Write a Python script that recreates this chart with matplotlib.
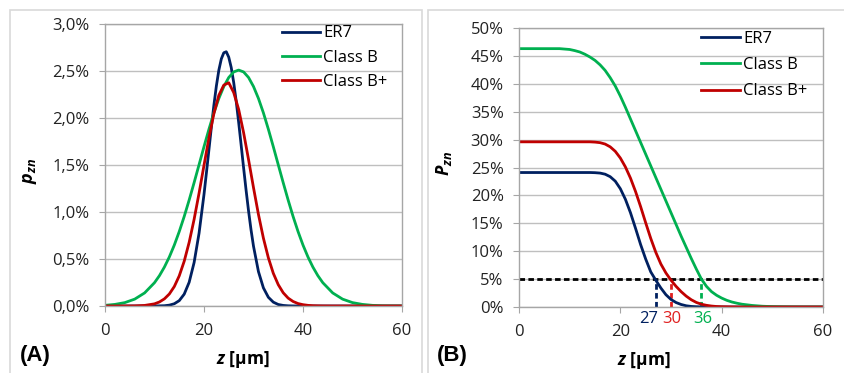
import matplotlib
matplotlib.use("Agg")
import matplotlib.pyplot as plt
from matplotlib.patches import Rectangle
from matplotlib.ticker import FuncFormatter, MultipleLocator

plt.rcParams['font.family'] = ['Open Sans', 'DejaVu Sans']
plt.rcParams['mathtext.fontset'] = 'custom'
plt.rcParams['mathtext.rm'] = 'Open Sans'
plt.rcParams['mathtext.it'] = 'Open Sans:italic:bold'
plt.rcParams['mathtext.bfit'] = 'Open Sans:italic:bold'

# z grid [um] for most series
z = [0, 2, 4, 6, 8] + list(range(10, 45)) + [46, 48, 50, 52, 54, 56, 58, 60]
# finer z grid [um] for the narrow ER7 peak in (A)
z_er7 = ([0, 2, 4, 6, 8, 10, 12, 13, 14, 15, 16, 17, 18, 19]
         + [20 + 0.5 * i for i in range(21)]
         + [31, 32, 33, 34, 35, 36, 37, 38, 40, 44, 48, 52, 56, 60])

# panel (A): p_zn [%]
p_er7 = [0, 0, 0, 0, 0, 0.0002, 0.003, 0.009, 0.024, 0.057, 0.126, 0.252, 0.462, 0.774,
         1.187, 1.422, 1.665, 1.908, 2.137, 2.341, 2.509, 2.629, 2.694, 2.705, 2.647,
         2.537, 2.378, 2.180, 1.955, 1.714, 1.470, 1.233, 1.011, 0.811, 0.636,
         0.366, 0.193, 0.093, 0.041, 0.016, 0.006, 0.002, 0.0006, 0, 0, 0, 0, 0, 0]
p_classb = [0.007, 0.017, 0.036, 0.073, 0.139,
            0.248, 0.323, 0.414, 0.522, 0.648, 0.792, 0.952, 1.127, 1.312, 1.503,
            1.695, 1.881, 2.055, 2.208, 2.335, 2.431, 2.49, 2.51, 2.49, 2.431,
            2.335, 2.208, 2.055, 1.881, 1.695, 1.503, 1.312, 1.127, 0.952, 0.792,
            0.648, 0.522, 0.414, 0.323, 0.248,
            0.139, 0.073, 0.036, 0.017, 0.007, 0.001, 0, 0]
p_classbp = [0, 0, 0.0002, 0.001, 0.006,
             0.023, 0.043, 0.076, 0.128, 0.207, 0.321, 0.476, 0.677, 0.921, 1.20,
             1.497, 1.789, 2.047, 2.242, 2.35, 2.375, 2.271, 2.092, 1.844, 1.557,
             1.259, 0.974, 0.722, 0.513, 0.348, 0.227, 0.141, 0.084, 0.048, 0.026,
             0.014, 0.007, 0.003, 0.0015, 0.0006,
             0, 0, 0, 0, 0, 0, 0, 0]

# panel (B): P_zn [%]
P_er7 = [24.1, 24.1, 24.1, 24.1, 24.1,
         24.1, 24.1, 24.1, 24.1, 24.1, 24.07, 24.0, 23.8, 23.35, 22.55,
         21.2, 19.3, 16.9, 14.1, 11.2, 8.6, 6.3, 4.8, 3.4, 2.2,
         1.35, 0.8, 0.45, 0.22, 0.1, 0.05, 0.02, 0.01, 0, 0,
         0, 0, 0, 0, 0,
         0, 0, 0, 0, 0, 0, 0, 0]
P_classb = [46.3, 46.3, 46.3, 46.3, 46.3,
            46.15, 45.95, 45.7, 45.3, 44.8, 44.2, 43.4, 42.4, 41.1, 39.6,
            37.8, 35.8, 33.7, 31.6, 29.5, 27.4, 25.3, 23.2, 21.1, 19.0,
            16.9, 14.8, 12.7, 10.7, 8.7, 6.8, 5.0, 3.7, 2.75, 2.1,
            1.6, 1.2, 0.9, 0.68, 0.5,
            0.28, 0.14, 0.07, 0.03, 0.01, 0, 0, 0]
P_classbp = [29.6, 29.6, 29.6, 29.6, 29.6,
             29.6, 29.6, 29.6, 29.6, 29.6, 29.55, 29.45, 29.2, 28.7, 27.9,
             26.7, 25.1, 23.1, 20.7, 18.0, 15.1, 12.3, 9.8, 7.7, 6.1,
             4.8, 3.7, 2.75, 1.95, 1.3, 0.82, 0.5, 0.3, 0.17, 0.09,
             0.05, 0.03, 0.015, 0.007, 0,
             0, 0, 0, 0, 0, 0, 0, 0]

labels = ['ER7', 'Class B', 'Class B+']
colors = ['#002060', '#00B050', '#C00000']
thr_level = 5
thr_z = [27, 30, 36]
thr_text = ['27', '30', '36']
thr_text_x = [25.6, 30.2, 36.2]
thr_colors = ['#002060', '#E02020', '#00B050']

W, H = 844, 373
fig = plt.figure(figsize=(W / 100, H / 100), dpi=100)

# panel frames
for x0, x1 in [(10, 422), (428, 850)]:
    fig.patches.append(Rectangle((x0 / W, -0.05), (x1 - x0) / W, (H - 9.5) / H + 0.05,
                                 transform=fig.transFigure, fill=False,
                                 edgecolor='#D9D9D9', lw=1.2))

axA = fig.add_axes([105 / W, (H - 306) / H, 297 / W, 282 / H])
axB = fig.add_axes([519 / W, (H - 307) / H, 304 / W, 279 / H])

for zz, ys, lab, c in zip([z_er7, z, z], [p_er7, p_classb, p_classbp], labels, colors):
    axA.plot(zz, ys, color=c, lw=2, label=lab)
for ys, lab, c in zip([P_er7, P_classb, P_classbp], labels, colors):
    axB.plot(z, ys, color=c, lw=2, label=lab)

axB.plot([0, 60], [thr_level, thr_level], color='black', lw=2, ls=(0, (2, 1.2)), zorder=1)
for zt, c, t, tx in zip(thr_z, thr_colors, thr_text, thr_text_x):
    axB.plot([zt, zt], [0, thr_level], color=c, lw=2, ls=(0, (2, 1.2)), zorder=1)
    axB.text(tx, -0.8, t, color=c, ha='center', va='top', fontsize=12)

axA.set_ylim(0, 3.0)
axA.yaxis.set_major_locator(MultipleLocator(0.5))
axA.yaxis.set_major_formatter(FuncFormatter(lambda v, p: f"{v:.1f}%".replace('.', ',')))
axB.set_ylim(0, 50)
axB.yaxis.set_major_locator(MultipleLocator(5))
axB.yaxis.set_major_formatter(FuncFormatter(lambda v, p: f"{v:.0f}%"))

for ax in (axA, axB):
    ax.set_xlim(0, 60)
    ax.set_xticks([0, 20, 40, 60])
    ax.grid(axis='y', color='#BFBFBF', lw=1)
    ax.set_axisbelow(True)
    for s in ax.spines.values():
        s.set_color('#A6A6A6')
        s.set_linewidth(1)
    ax.tick_params(axis='both', colors='#A6A6A6', labelcolor='#222222',
                   labelsize=12, length=4)
    ax.tick_params(axis='x', pad=8)
    ax.tick_params(axis='y', pad=7)
    ax.set_xlabel(r'$\mathbfit{z}$ [μm]', fontsize=12.5, fontweight='bold')

axA.xaxis.set_label_coords(0.465, -0.152)
axB.xaxis.set_label_coords(0.41, -0.155)
axA.set_ylabel(r'$\mathbfit{p}_{\mathbfit{zn}}$', fontsize=13)
axA.yaxis.set_label_coords(-0.222, 0.48)
axB.set_ylabel(r'$\mathbfit{P}_{\mathbfit{zn}}$', fontsize=13)
axB.yaxis.set_label_coords(-0.214, 0.515)

axA.legend(loc='upper left', bbox_to_anchor=(0.595, 0.995), frameon=False,
           borderaxespad=0, borderpad=0, handlelength=2.3, handletextpad=0.2,
           labelspacing=0.5, fontsize=12)
axB.legend(loc='upper left', bbox_to_anchor=(0.6, 0.99), frameon=False,
           borderaxespad=0, borderpad=0, handlelength=2.3, handletextpad=0.2,
           labelspacing=0.62, fontsize=12)

fig.text(35 / W, 1 - 356 / H, '(A)', fontsize=16, fontweight='bold',
         family='Liberation Sans', ha='center', va='center')
fig.text(452 / W, 1 - 356 / H, '(B)', fontsize=16, fontweight='bold',
         family='Liberation Sans', ha='center', va='center')

fig.savefig('out.png', dpi=100)
